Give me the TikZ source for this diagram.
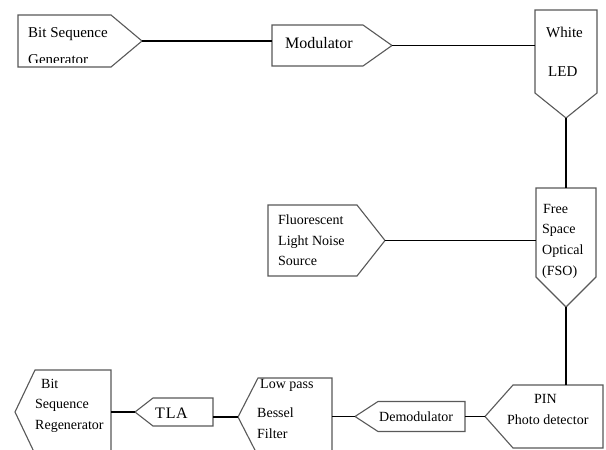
\documentclass[tikz,border=0pt]{standalone}
\usepackage{fontspec}
\setmainfont{Liberation Serif}
\usetikzlibrary{calc}
\tikzset{
 blk/.style={draw=none, inner sep=0pt, outer sep=0pt},
 shp/.style={draw=black!65, line width=1.1pt, line join=miter},
 wire/.style={draw=black, line width=1.2pt},
 lbl/.style={anchor=base west, inner sep=0pt, font=\fontsize{14}{16}\selectfont},
 lblb/.style={lbl, font=\fontsize{15}{17}\selectfont},
 lblc/.style={lbl, font=\fontsize{16}{18}\selectfont},
}
\begin{document}
\begin{tikzpicture}[x=1pt,y=-1pt]
\useasboundingbox (0,0) rectangle (606,450);
\clip (0,0) rectangle (606,450);
\fill[white] (0,0) rectangle (606,450);

% Bit Sequence Generator (points right)
\node[blk, minimum width=93pt, minimum height=52pt] (bsg) at (64.5,41) {};
\coordinate (bsgT) at (142,41);
\draw[shp] (bsg.north west) -- (bsg.north east) -- (bsgT) -- (bsg.south east) -- (bsg.south west) -- cycle;

% Modulator (points right)
\node[blk, minimum width=91pt, minimum height=41pt] (mod) at (317.5,45.5) {};
\coordinate (modT) at (392,45.5);
\draw[shp] (mod.north west) -- (mod.north east) -- (modT) -- (mod.south east) -- (mod.south west) -- cycle;

% White LED (points down)
\node[blk, minimum width=62pt, minimum height=83pt] (led) at (566,51.5) {};
\coordinate (ledT) at (566,118);
\draw[shp] (led.north west) -- (led.north east) -- (led.south east) -- (ledT) -- (led.south west) -- cycle;

% Free Space Optical (points down)
\node[blk, minimum width=60pt, minimum height=89pt] (fso) at (566,232.5) {};
\coordinate (fsoT) at (566,307);
\draw[shp] (fso.north west) -- (fso.north east) -- (fso.south east) -- (fsoT) -- (fso.south west) -- cycle;

% Fluorescent Light Noise Source (points right)
\node[blk, minimum width=89pt, minimum height=71pt] (fls) at (312.5,240.5) {};
\coordinate (flsT) at (385,240.5);
\draw[shp] (fls.north west) -- (fls.north east) -- (flsT) -- (fls.south east) -- (fls.south west) -- cycle;

% PIN Photo detector (points left)
\node[blk, minimum width=90pt, minimum height=63pt] (pin) at (558,416.5) {};
\coordinate (pinT) at (485,416.5);
\draw[shp] (pin.north east) -- (pin.north west) -- (pinT) -- (pin.south west) -- (pin.south east) -- cycle;

% Demodulator (points left)
\node[blk, minimum width=87pt, minimum height=30pt] (demod) at (421.5,416.5) {};
\coordinate (demodT) at (355,416.5);
\draw[shp] (demod.north east) -- (demod.north west) -- (demodT) -- (demod.south west) -- (demod.south east) -- cycle;

% Low pass Bessel Filter (points left)
\node[blk, minimum width=74pt, minimum height=78pt] (fil) at (295,417) {};
\coordinate (filT) at (238,417);
\draw[shp] (fil.north east) -- (fil.north west) -- (filT) -- (fil.south west) -- (fil.south east) -- cycle;

% TLA (points left)
\node[blk, minimum width=60pt, minimum height=28pt] (tla) at (183,412) {};
\coordinate (tlaT) at (135,412);
\draw[shp] (tla.north east) -- (tla.north west) -- (tlaT) -- (tla.south west) -- (tla.south east) -- cycle;

% Bit Sequence Regenerator (points left)
\node[blk, minimum width=76pt, minimum height=84pt] (bsr) at (73,412) {};
\coordinate (bsrT) at (15,412);
\draw[shp] (bsr.north east) -- (bsr.north west) -- (bsrT) -- (bsr.south west) -- (bsr.south east) -- cycle;

% Connectors
\draw[wire] (bsgT) -- (bsgT -| mod.west);
\draw[wire] (modT) -- (modT -| led.west);
\draw[wire] (ledT) -- (fso.north);
\draw[wire] (flsT) -- (flsT -| fso.west);
\draw[wire] (fsoT) -- (fsoT |- pin.north);
\draw[wire] (pinT) -- (demod.east);
\draw[wire] (demodT) -- (demodT -| fil.east);
\draw[wire] (filT) -- (filT -| tla.east);
\draw[wire] (tlaT) -- (tlaT -| bsr.east);

% Labels
\node[lblb] (bsg1) at (28,37) {Bit Sequence};
\begin{scope}
\clip (18,15) rectangle (111,62.3);
\node[lblb] (bsg2) at (28,64) {Generator};
\end{scope}
\node[lblc] (mod1) at (285,48) {Modulator};
\node[lblb] (led1) at (546,37) {White};
\node[lblb] (led2) at (548,76) {LED};
\node[lbl] (fso1) at (543,213) {Free};
\node[lbl] (fso2) at (542,233) {Space};
\node[lbl] (fso3) at (542,254) {Optical};
\node[lbl] (fso4) at (542,275) {(FSO)};
\node[lbl] (fls1) at (278,224) {Fluorescent};
\node[lbl] (fls2) at (278,245) {Light Noise};
\node[lbl] (fls3) at (278,265) {Source};
\node[lbl] (pin1) at (534,403) {PIN};
\node[lbl] (pin2) at (507,424) {Photo detector};
\node[lbl] (dem1) at (379,421) {Demodulator};
\node[lbl] (fil1) at (260,388) {Low pass};
\node[lbl] (fil2) at (257,417) {Bessel};
\node[lbl] (fil3) at (257,438) {Filter};
\node[lblc] (tla1) at (155,418) {T\kern1pt L\kern0.5pt A};
\node[lbl] (bsr1) at (41,388) {Bit};
\node[lbl] (bsr2) at (35,408) {Sequence};
\node[lbl] (bsr3) at (35,429) {Regenerator};
\end{tikzpicture}
\end{document}
